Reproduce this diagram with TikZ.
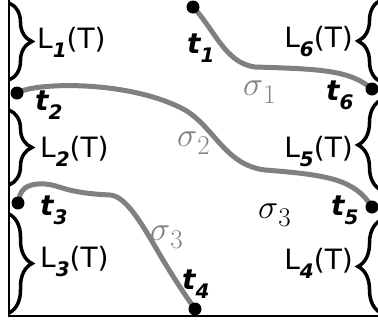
\documentclass[tikz,border=0pt]{standalone}
\usepackage{fix-cm}
\usepackage{fontspec}
\newfontfamily\dejavu{DejaVu Sans}
\usetikzlibrary{decorations.pathreplacing}
\definecolor{trajgray}{HTML}{808080}
\tikzset{
  dot/.style={circle,fill=black,inner sep=0pt,minimum size=13pt},
  traj/.style={draw=trajgray,line width=5pt,line cap=round,line join=round},
  lbrace/.style={decorate,decoration={brace,amplitude=23pt},line width=3.5pt},
  lab/.style={font=\dejavu\fontsize{28}{32}\selectfont,inner sep=0pt},
  tname/.style={font=\dejavu\fontsize{28}{32}\selectfont\bfseries\itshape,inner sep=0pt},
  sig/.style={font=\fontsize{34}{40}\selectfont,inner sep=0pt}
}
\newcommand{\lsub}[1]{\raisebox{-0.33em}{\fontsize{20}{20}\selectfont\bfseries\itshape #1}}
\newcommand{\sigsub}[1]{$\sigma$\raisebox{-0.24em}{\fontsize{27}{27}\selectfont #1}}

\begin{document}
\begin{tikzpicture}[x=1pt,y=-1pt]
  \useasboundingbox (0,0) rectangle (378,327);
  % frame
  \draw[line width=1.2pt] (9,0) -- (9,316) -- (380,316);
  % braces
  \draw[lbrace] (9,3) -- (9,80);
  \draw[lbrace] (9,110) -- (9,185);
  \draw[lbrace] (9,214) -- (9,313);
  \draw[lbrace] (381,82) -- (381,0);
  \draw[lbrace] (381,190) -- (381,100);
  \draw[lbrace] (381,313) -- (381,220);
  % interval labels
  \node[lab,anchor=base west] (l1) at (37,48) {L\lsub{1}(T)};
  \node[lab,anchor=base west] (l2) at (40,157) {L\lsub{2}(T)};
  \node[lab,anchor=base west] (l3) at (40,267) {L\lsub{3}(T)};
  \node[lab,anchor=base east] (l6) at (353,47) {L\lsub{6}(T)};
  \node[lab,anchor=base east] (l5) at (353,157) {L\lsub{5}(T)};
  \node[lab,anchor=base east] (l4) at (353,269) {L\lsub{4}(T)};
  % trajectories
  \draw[traj] (193,7) .. controls (215,30) and (225,63) .. (255,67)
    .. controls (320,69) and (350,70) .. (372,89);
  \draw[traj] (17,93) .. controls (35,82) and (130,80) .. (185,110)
    .. controls (215,128) and (225,165) .. (265,170)
    .. controls (330,175) and (355,180) .. (372,207);
  \draw[traj] (18,203) .. controls (20,190) and (25,183) .. (45,184)
    .. controls (60,185) and (65,193) .. (110,195)
    .. controls (125,196) and (140,220) .. (160,255)
    .. controls (175,280) and (185,295) .. (195,309);
  % end points
  \node[dot] (t1) at (193,7) {};
  \node[dot] (t2) at (17,93) {};
  \node[dot] (t3) at (18,203) {};
  \node[dot] (t4) at (195,309) {};
  \node[dot] (t5) at (372,207) {};
  \node[dot] (t6) at (372,89) {};
  \node[tname,anchor=base west] (n1) at (187,53) {t\lsub{1}};
  \node[tname,anchor=base west] (n2) at (35,110) {t\lsub{2}};
  \node[tname,anchor=base west] (n3) at (40,215) {t\lsub{3}};
  \node[tname,anchor=base west] (n4) at (182,289) {t\lsub{4}};
  \node[tname,anchor=base west] (n5) at (331,215) {t\lsub{5}};
  \node[tname,anchor=base west] (n6) at (326,100) {t\lsub{6}};
  % sigma labels
  \node[sig,trajgray,anchor=base west] (s1) at (243,95) {\sigsub{1}};
  \node[sig,trajgray,anchor=base west] (s2) at (177,146) {\sigsub{2}};
  \node[sig,trajgray,anchor=base west] (s3) at (150,240) {\sigsub{3}};
  \node[sig,anchor=base west] (s3b) at (258,218) {\sigsub{3}};
\end{tikzpicture}
\end{document}
